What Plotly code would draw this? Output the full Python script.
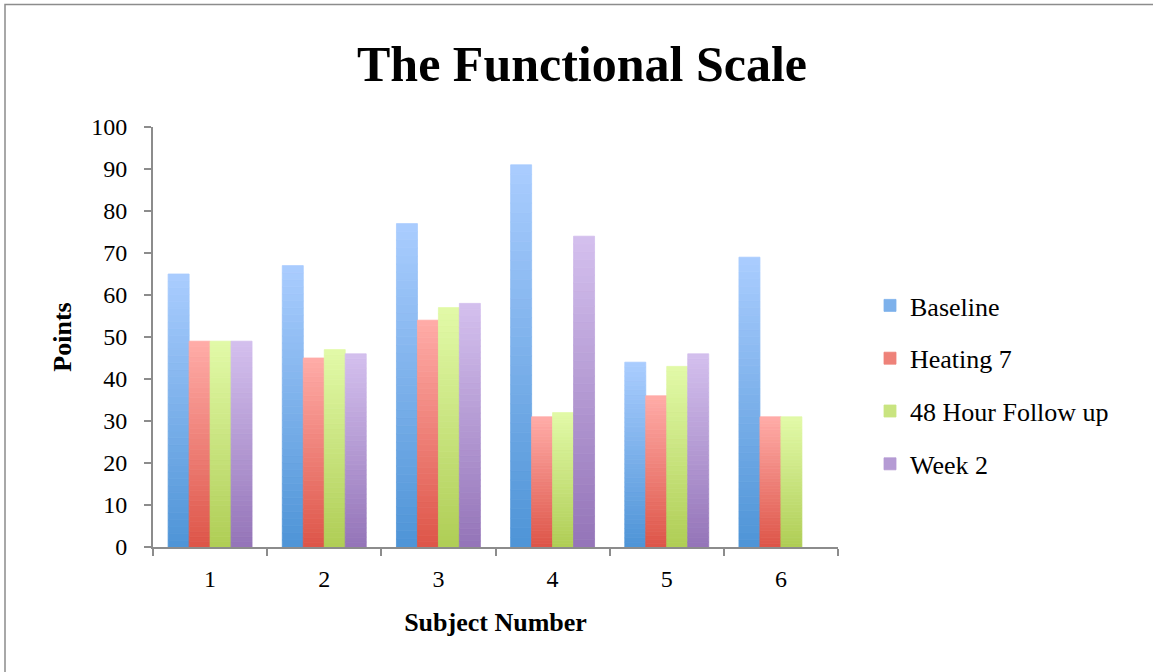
import plotly.graph_objects as go

subjects = ["1", "2", "3", "4", "5", "6"]
series_names = ["Baseline", "Heating 7", "48 Hour Follow up", "Week 2"]
baseline = [65, 67, 77, 91, 44, 69]
heating7 = [49, 45, 54, 31, 36, 31]
follow48 = [49, 47, 57, 32, 43, 31]
week2 = [49, 46, 58, 74, 46, None]

series_values = [baseline, heating7, follow48, week2]
# (top colour, bottom colour) for each series gradient
top_colors = [(170, 205, 255), (255, 172, 168), (226, 250, 168), (212, 192, 238)]
bottom_colors = [(78, 148, 214), (221, 85, 72), (175, 205, 85), (148, 116, 184)]

FONT = "Liberation Serif"
K = 40  # gradient slices per bar

fig = go.Figure()
for si, (name, vals) in enumerate(zip(series_names, series_values)):
    tc, bc = top_colors[si], bottom_colors[si]
    for k in range(K):
        t = (k + 0.5) / K
        c = tuple(round(bc[i] + (tc[i] - bc[i]) * t) for i in range(3))
        col = "rgb(%d,%d,%d)" % c
        ys = [None if v is None else v / K for v in vals]
        bases = [None if v is None else v * k / K for v in vals]
        fig.add_trace(go.Bar(
            x=subjects, y=ys, base=bases, name=name,
            offsetgroup=str(si), legendgroup=name,
            showlegend=(k == K // 2),
            marker=dict(color=col, line=dict(width=0.8, color=col)),
            hoverinfo="skip",
        ))

L, R, T, B = 153, 838, 127, 547
W, H = 1153, 672
pw, ph = R - L, B - T

def px_x(x):
    return (x - L) / pw

def px_y(y):
    return (B - y) / ph

fig.add_shape(type="rect", xref="paper", yref="paper",
              x0=px_x(5), x1=px_x(W + 10), y0=px_y(H + 10), y1=px_y(4.5),
              line=dict(color="#8c8c8c", width=1.5), fillcolor="rgba(0,0,0,0)",
              layer="below")

fig.update_layout(
    width=W, height=H,
    margin=dict(l=L, r=W - R, t=T, b=H - B, pad=0),
    paper_bgcolor="white", plot_bgcolor="white",
    barmode="group", bargap=0.265, bargroupgap=0,
    font=dict(family=FONT, color="black", size=24),
    title=dict(text="<b>The Functional Scale</b>", x=582 / W, xref="container",
               xanchor="center", y=1 - 63 / H, yanchor="middle",
               font=dict(family=FONT, size=50, color="black")),
    xaxis=dict(type="category", showgrid=False, zeroline=False,
               showline=True, linecolor="#8c8c8c", linewidth=2,
               ticks="outside", tickson="boundaries", ticklen=7,
               tickcolor="#8c8c8c", tickwidth=2,
               tickfont=dict(family=FONT, size=24), ticklabelstandoff=9,
               title=dict(text="<b>Subject Number</b>", standoff=22,
                          font=dict(family=FONT, size=26))),
    yaxis=dict(range=[0, 100], dtick=10, showgrid=False, zeroline=False,
               showline=True, linecolor="#8c8c8c", linewidth=2,
               ticks="outside", ticklen=7, tickcolor="#8c8c8c", tickwidth=2,
               tickfont=dict(family=FONT, size=24), ticklabelstandoff=12,
               title=dict(text="<b>Points</b>", standoff=12,
                          font=dict(family=FONT, size=26))),
    legend=dict(x=px_x(870), xanchor="left", y=px_y(385), yanchor="middle",
                traceorder="grouped", tracegroupgap=16,
                font=dict(family=FONT, size=26, color="black"),
                itemwidth=30, bgcolor="rgba(0,0,0,0)"),
    showlegend=True,
)

fig.write_html("out.html", config={"displayModeBar": False},
               post_script="document.body.style.margin='0';")
